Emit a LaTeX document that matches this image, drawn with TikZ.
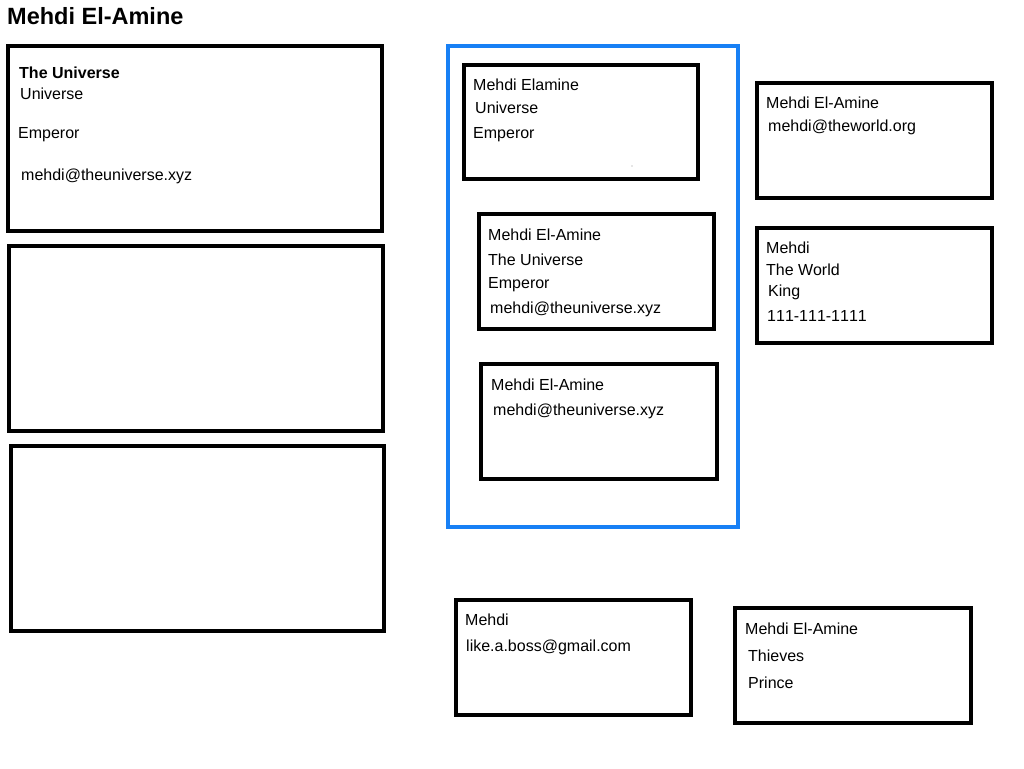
\documentclass[tikz,border=0pt]{standalone}
\usepackage{fontspec}
\setmainfont{Liberation Sans}
\definecolor{selblue}{RGB}{24,128,245}
\definecolor{dotgray}{RGB}{150,150,150}
\tikzset{
  card/.style={draw=black, line width=4pt},
  group/.style={draw=selblue, line width=3.5pt},
  txt/.style={anchor=base west, inner sep=0pt, font=\fontsize{16}{19}\selectfont},
  btxt/.style={txt, font=\fontsize{16}{19}\selectfont\bfseries},
  ttl/.style={anchor=base west, inner sep=0pt, font=\fontsize{23.5}{27}\selectfont\bfseries}
}
\begin{document}
\begin{tikzpicture}[x=1pt,y=-1pt]
\useasboundingbox[fill=white] (0,0) rectangle (1024,768);
% title
\node[ttl] (title) at (7,25) {Mehdi El-Amine};
% left column boxes
\draw[card] (8,46) rectangle (382,231);
\draw[card] (9,246) rectangle (383,431);
\draw[card] (11,446) rectangle (384,631);
\node[btxt] (l1a) at (19,78.5) {The Universe};
\node[txt] (l1b) at (20,99.5) {Universe};
\node[txt] (l1c) at (18,138.5) {Emperor};
\node[txt] (l1d) at (21,180.5) {mehdi@theuniverse.xyz};
% blue group
\draw[group] (448,46) rectangle (738,527);
\draw[card] (464,65) rectangle (698,179);
\node[txt] (i1a) at (473,90.5) {Mehdi Elamine};
\node[txt] (i1b) at (475,113.5) {Universe};
\node[txt] (i1c) at (473,138.5) {Emperor};
\fill[dotgray] (632,166) circle (0.6);
\draw[card] (479,214) rectangle (714,329);
\node[txt] (i2a) at (488,240.5) {Mehdi El-Amine};
\node[txt] (i2b) at (488,265.5) {The Universe};
\node[txt] (i2c) at (488,288.5) {Emperor};
\node[txt] (i2d) at (490,313.5) {mehdi@theuniverse.xyz};
\draw[card] (481,364) rectangle (717,479);
\node[txt] (i3a) at (491,390.5) {Mehdi El-Amine};
\node[txt] (i3b) at (493,415.5) {mehdi@theuniverse.xyz};
% right column
\draw[card] (757,83) rectangle (992,198);
\node[txt] (r1a) at (766,108.5) {Mehdi El-Amine};
\node[txt] (r1b) at (768,131.5) {mehdi@theworld.org};
\draw[card] (757,228) rectangle (992,343);
\node[txt] (r2a) at (766,253.5) {Mehdi};
\node[txt] (r2b) at (766,275.5) {The World};
\node[txt] (r2c) at (768,296.5) {King};
\node[txt, font=\fontsize{16}{19}\selectfont\addfontfeatures{Kerning=Off}] (r2d) at (767,321.5) {111-111-1111};
% bottom row
\draw[card] (456,600) rectangle (691,715);
\node[txt] (b1a) at (465,625.5) {Mehdi};
\node[txt] (b1b) at (466,651.5) {like.a.boss@gmail.com};
\draw[card] (735,608) rectangle (971,723);
\node[txt] (b2a) at (745,634.5) {Mehdi El-Amine};
\node[txt] (b2b) at (748,661.5) {Thieves};
\node[txt] (b2c) at (748,688.5) {Prince};
\end{tikzpicture}
\end{document}
